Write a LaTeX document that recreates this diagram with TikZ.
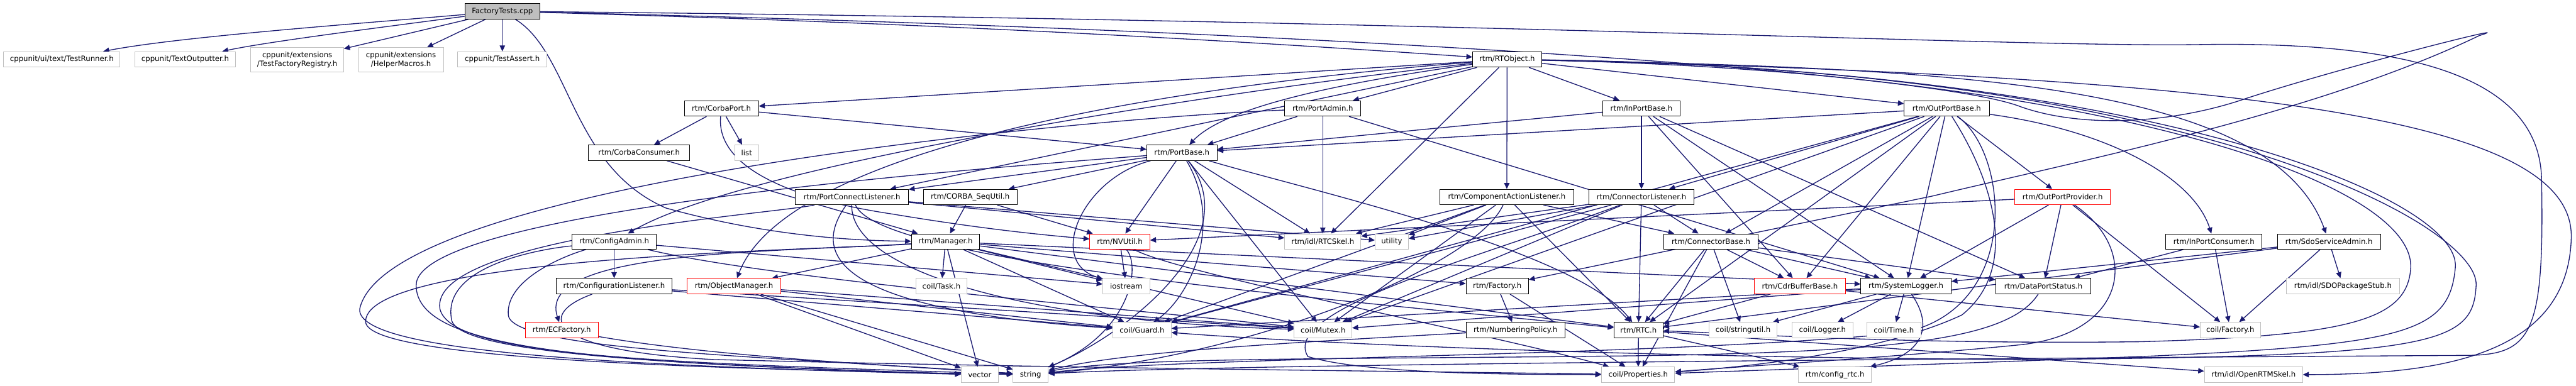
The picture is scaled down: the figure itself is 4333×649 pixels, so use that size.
\documentclass[tikz,border=0pt]{standalone}
\usepackage{fontspec}
\setmainfont{DejaVu Sans}
\usetikzlibrary{arrows.meta}
\definecolor{mb}{HTML}{191970}
\definecolor{gb}{HTML}{BFBFBF}
\pgfdeclarelayer{bg}
\pgfsetlayers{bg,main}
\newcommand\mynode[6]{\node[#5, minimum width=#4*0.5pt] (#1) at (#2,#3) {#6};}
\begin{document}
\begin{tikzpicture}[x=0.5pt,y=-0.5pt,
  base/.style={rectangle, inner sep=0pt, minimum height=13pt, fill=white, line width=0.5pt, text=black, font=\fontsize{6.2}{7.6}\selectfont, align=center},
  nb/.style={base, draw=black},
  nr/.style={base, draw=red},
  ng/.style={base, draw=gb},
  nt/.style={base, draw=black, fill=gb},
  e/.style={draw=mb, line width=0.7pt, -{Triangle[length=5pt,width=4.5pt]}}]
\useasboundingbox (0,0) rectangle (4333,649);
% row 0/1
\mynode{FT}{845}{19}{126}{nt}{FactoryTests.cpp}
\mynode{TR}{104}{100}{196}{ng}{cppunit/ui/text/TestRunner.h}
\mynode{TO}{311.5}{100}{169}{ng}{cppunit/TextOutputter.h}
\node[ng, minimum width=78pt, minimum height=20.5pt] (TFR) at (500,100.5) {cppunit/extensions\\/TestFactoryRegistry.h};
\node[ng, minimum width=71.5pt, minimum height=20.5pt] (HM) at (674.5,100.5) {cppunit/extensions\\/HelperMacros.h};
\mynode{TA}{845}{100}{150}{ng}{cppunit/TestAssert.h}
\mynode{RTO}{2535}{100}{116}{nb}{rtm/RTObject.h}
% row 2
\mynode{CP}{1213.5}{182.5}{125}{nb}{rtm/CorbaPort.h}
\mynode{PA}{2225}{182.5}{128}{nb}{rtm/PortAdmin.h}
\mynode{IPB}{2761}{182.5}{130}{nb}{rtm/InPortBase.h}
\mynode{OPB}{3274.5}{182.5}{143}{nb}{rtm/OutPortBase.h}
% row 3
\mynode{CC}{1075}{257}{170}{nb}{rtm/CorbaConsumer.h}
\mynode{LIST}{1256}{257}{40}{ng}{list}
\mynode{PB}{1988}{257}{118}{nb}{rtm/PortBase.h}
% row 4
\mynode{PCL}{1433}{331.5}{190}{nb}{rtm/PortConnectListener.h}
\mynode{CSU}{1632}{331.5}{158}{nb}{rtm/CORBA\_SeqUtil.h}
\mynode{CAL}{2534.5}{331.5}{225}{nb}{rtm/ComponentActionListener.h}
\mynode{CL}{2761}{331.5}{176}{nb}{rtm/ConnectorListener.h}
\mynode{OPP}{3469.5}{331.5}{161}{nr}{rtm/OutPortProvider.h}
% row 5
\mynode{CA}{1033}{406.5}{142}{nb}{rtm/ConfigAdmin.h}
\mynode{MGR}{1590.5}{406.5}{115}{nb}{rtm/Manager.h}
\mynode{NVU}{1883.5}{406.5}{101}{nr}{rtm/NVUtil.h}
\mynode{SKEL}{2225}{406.5}{128}{ng}{rtm/idl/RTCSkel.h}
\mynode{UTIL}{2341}{406.5}{56}{ng}{utility}
\mynode{CB}{2878}{406.5}{158}{nb}{rtm/ConnectorBase.h}
\mynode{IPC}{3724}{406.5}{162}{nb}{rtm/InPortConsumer.h}
\mynode{SDO}{3917.5}{406.5}{173}{nb}{rtm/SdoServiceAdmin.h}
% row 6
\mynode{CFL}{1033}{481.5}{194}{nb}{rtm/ConfigurationListener.h}
\mynode{OM}{1234.5}{481.5}{157}{nr}{rtm/ObjectManager.h}
\mynode{TASK}{1583.5}{481.5}{85}{ng}{coil/Task.h}
\mynode{IOS}{1894.5}{481.5}{79}{ng}{iostream}
\mynode{FAC}{2518.5}{481.5}{105}{nb}{rtm/Factory.h}
\mynode{CDR}{3027.5}{481.5}{153}{nr}{rtm/CdrBufferBase.h}
\mynode{SL}{3206}{481.5}{152}{nb}{rtm/SystemLogger.h}
\mynode{DPS}{3437}{481.5}{160}{nb}{rtm/DataPortStatus.h}
\mynode{SDOS}{3941}{481.5}{190}{ng}{rtm/idl/SDOPackageStub.h}
% row 7
\mynode{ECF}{945}{555.5}{122}{nr}{rtm/ECFactory.h}
\mynode{GUARD}{1921}{555.5}{98}{ng}{coil/Guard.h}
\mynode{MUTEX}{2225.5}{555.5}{97}{ng}{coil/Mutex.h}
\mynode{NP}{2549}{555.5}{166}{nb}{rtm/NumberingPolicy.h}
\mynode{RTC}{2756}{555.5}{82}{nb}{rtm/RTC.h}
\mynode{SU}{2932}{555.5}{114}{ng}{coil/stringutil.h}
\mynode{LOG}{3065.5}{555.5}{103}{ng}{coil/Logger.h}
\mynode{TIME}{3185.5}{555.5}{91}{ng}{coil/Time.h}
\mynode{CFAC}{3751.5}{555.5}{101}{ng}{coil/Factory.h}
% row 8
\mynode{VEC}{1648}{630.5}{62}{ng}{vector}
\mynode{STR}{1733.5}{630.5}{59}{ng}{string}
\mynode{PROP}{2755.5}{630.5}{123}{ng}{coil/Properties.h}
\mynode{CFG}{3086.5}{630.5}{123}{ng}{rtm/config\_rtc.h}
\mynode{ORSKEL}{3790.5}{630.5}{165}{ng}{rtm/idl/OpenRTMSkel.h}

\begin{pgfonlayer}{bg}
% FactoryTests
\draw[e] (FT) .. controls (600,40) and (300,62) .. (TR);
\draw[e] (FT) .. controls (650,45) and (450,70) .. (TO);
\draw[e] (FT) -- (TFR);
\draw[e] (FT) -- (HM);
\draw[e] (FT) -- (TA);
\draw[e] (FT) .. controls (1600,40) and (2100,70) .. (RTO);
\draw[e] (FT) .. controls (960,90) and (960,280) .. (1120,350) .. controls (1300,400) and (1450,405) .. (MGR);
\draw[e] (FT) .. controls (2200,50) and (3250,120) .. (3400,180) .. controls (3500,215) and (3650,210) .. (3780,165) .. controls (3950,110) and (4250,35) .. (4170,60) .. controls (3900,190) and (3500,270) .. (3250,330) -- (FAC);
\draw[e] (FT) .. controls (2500,35) and (3400,80) .. (3700,75) .. controls (4000,70) and (4270,110) .. (4275,300) .. controls (4280,560) and (4260,597) .. (4150,598) .. controls (3000,605) and (2000,615) .. (STR);
% RTObject
\draw[e] (RTO) -- (CP);
\draw[e] (RTO) .. controls (2250,140) and (2060,180) .. (PB);
\draw[e] (RTO) -- (PA);
\draw[e] (RTO) -- (IPB);
\draw[e] (RTO) -- (OPB);
\draw[e] (RTO) -- (CAL);
\draw[e] (RTO) -- (SKEL);
\draw[e] (RTO) .. controls (2000,160) and (1250,280) .. (CA);
\draw[e] (RTO) .. controls (1900,150) and (1320,260) .. (OM);
\draw[e] (RTO) -- (PCL);
\draw[e] (RTO) .. controls (3300,115) and (3820,140) .. (SDO);
\draw[e] (RTO) .. controls (3500,120) and (4060,300) .. (4055,450) .. controls (4050,540) and (3950,565) .. (3600,575) .. controls (3200,580) and (2900,560) .. (RTC);
\draw[e] (RTO) .. controls (3600,115) and (4140,330) .. (4130,450) .. controls (4120,560) and (4050,580) .. (3600,600) .. controls (3200,615) and (2900,625) .. (PROP);
\draw[e] (RTO) .. controls (3700,115) and (4170,380) .. (4165,480) .. controls (4160,580) and (4100,600) .. (3400,605) .. controls (2600,600) and (2100,570) .. (GUARD);
\draw[e] (RTO) .. controls (3800,130) and (4330,200) .. (4325,400) .. controls (4320,600) and (4100,630) .. (ORSKEL);
% CorbaPort, CorbaConsumer
\draw[e] (CP) -- (CC);
\draw[e] (CP) -- (LIST);
\draw[e] (CP) -- (PB);
\draw[e] (CP) .. controls (1205,270) and (1300,330) .. (1500,360) .. controls (1650,385) and (1750,395) .. (NVU);
\draw[e] (CC) -- (MGR);
% PortBase
\draw[e] (PB) -- (PCL);
\draw[e] (PB) -- (CSU);
\draw[e] (PB) -- (NVU);
\draw[e] (PB) -- (SKEL);
\draw[e] (PB) .. controls (1820,300) and (1760,440) .. (IOS);
\draw[e] (PB) .. controls (2060,380) and (2000,500) .. (GUARD);
\draw[e] (PB) -- (MUTEX);
\draw[e] (PB) .. controls (2200,320) and (2650,420) .. (RTC);
\draw[e] (PB) .. controls (1700,280) and (700,350) .. (700,480) .. controls (700,590) and (1000,610) .. (VEC);
\draw[e] (PB) .. controls (2100,400) and (1900,560) .. (STR);
% PortAdmin
\draw[e] (PA) -- (PB);
\draw[e] (PA) -- (SKEL);
\draw[e] (PA) -- (SL);
\draw[e] (PA) .. controls (1800,200) and (650,310) .. (605,520) .. controls (600,590) and (1000,615) .. (VEC);
% InPortBase
\draw[e] (IPB) -- (PB);
\draw[e] (IPB) -- (CL);
\draw[e] (IPB) -- (CDR);
\draw[e] (IPB) -- (DPS);
\draw[e] (IPB) -- (SL);
% OutPortBase
\draw[e] (OPB) -- (PB);
\draw[e] (OPB) -- (OPP);
\draw[e] (OPB) .. controls (3550,220) and (3690,300) .. (IPC);
\draw[e] (OPB) -- (CL);
\draw[e] (OPB) -- (CB);
\draw[e] (OPB) -- (CDR);
\draw[e] (OPB) -- (SL);
\draw[e] (OPB) -- (RTC);
\draw[e] (OPB) -- (GUARD);
\draw[e] (OPB) -- (MUTEX);
\draw[e] (OPB) .. controls (3350,300) and (3400,450) .. (3300,530) .. controls (3150,600) and (2900,620) .. (PROP);
\draw[e] (OPB) .. controls (3380,260) and (3400,520) .. (3200,560) .. controls (2800,600) and (2000,600) .. (STR);
% PortConnectListener, CORBA_SeqUtil
\draw[e] (PCL) -- (UTIL);
\draw[e] (PCL) -- (SKEL);
\draw[e] (PCL) .. controls (1370,420) and (1380,520) .. (GUARD);
\draw[e] (PCL) .. controls (1430,450) and (1700,540) .. (MUTEX);
\draw[e] (PCL) .. controls (1480,440) and (2200,500) .. (RTC);
\draw[e] (PCL) .. controls (1300,360) and (720,400) .. (740,520) .. controls (760,600) and (1100,610) .. (STR);
\draw[e] (CSU) -- (MGR);
\draw[e] (CSU) -- (NVU);
% ComponentActionListener
\draw[e] (CAL) -- (SKEL);
\draw[e] (CAL) -- (UTIL);
\draw[e] (CAL) -- (MUTEX);
\draw[e] (CAL) -- (GUARD);
\draw[e] (CAL) -- (RTC);
\draw[e] (CAL) -- (CB);
\draw[e] (CAL) .. controls (2480,450) and (2100,600) .. (STR);
% ConnectorListener
\draw[e] (CL) -- (SKEL);
\draw[e] (CL) -- (UTIL);
\draw[e] (CL) -- (GUARD);
\draw[e] (CL) -- (MUTEX);
\draw[e] (CL) -- (RTC);
\draw[e] (CL) -- (CB);
\draw[e] (CL) .. controls (2500,430) and (2150,520) .. (2200,600) .. controls (2300,630) and (2550,630) .. (PROP);
% ConnectorBase
\draw[e] (CB) -- (RTC);
\draw[e] (CB) -- (PROP);
\draw[e] (CB) -- (SU);
\draw[e] (CB) -- (CDR);
\draw[e] (CB) -- (SL);
\draw[e] (CB) -- (DPS);
% CdrBufferBase, SystemLogger, DataPortStatus
\draw[e] (CDR) -- (RTC);
\draw[e] (CDR) -- (CFAC);
\draw[e] (SL) -- (SU);
\draw[e] (SL) -- (LOG);
\draw[e] (SL) -- (TIME);
\draw[e] (SL) .. controls (3260,560) and (3220,600) .. (CFG);
\draw[e] (SL) -- (GUARD);
\draw[e] (SL) -- (MUTEX);
\draw[e] (DPS) .. controls (3380,570) and (3200,590) .. (2800,598) .. controls (2300,605) and (1900,600) .. (STR);
% OutPortProvider, InPortConsumer, SdoServiceAdmin
\draw[e] (OPP) -- (NVU);
\draw[e] (OPP) -- (SL);
\draw[e] (OPP) -- (DPS);
\draw[e] (OPP) -- (CFAC);
\draw[e] (OPP) .. controls (3600,420) and (3580,560) .. (3400,580) .. controls (3200,600) and (2950,615) .. (PROP);
\draw[e] (IPC) -- (DPS);
\draw[e] (IPC) -- (CFAC);
\draw[e] (SDO) -- (SDOS);
\draw[e] (SDO) -- (CFAC);
\draw[e] (SDO) -- (SL);
\draw[e] (SDO) -- (RTC);
% Manager
\draw[e] (MGR) -- (OM);
\draw[e] (MGR) -- (TASK);
\draw[e] (MGR) -- (VEC);
\draw[e] (MGR) -- (GUARD);
\draw[e] (MGR) -- (IOS);
\draw[e] (MGR) -- (SL);
\draw[e] (MGR) -- (FAC);
\draw[e] (MGR) -- (RTC);
\draw[e] (MGR) -- (MUTEX);
\draw[e] (MGR) .. controls (1300,425) and (900,420) .. (ECF);
\draw[e] (MGR) .. controls (1400,420) and (620,430) .. (615,540) .. controls (610,600) and (1100,620) .. (STR);
% ConfigAdmin, ConfigurationListener, ECFactory, ObjectManager
\draw[e] (CA) -- (CFL);
\draw[e] (CA) -- (IOS);
\draw[e] (CA) .. controls (1300,470) and (1900,520) .. (MUTEX);
\draw[e] (CA) .. controls (900,420) and (740,450) .. (760,540) .. controls (780,600) and (1200,615) .. (VEC);
\draw[e] (CA) .. controls (950,430) and (850,470) .. (855,530) .. controls (860,590) and (1300,600) .. (STR);
\draw[e] (CFL) -- (GUARD);
\draw[e] (CFL) -- (MUTEX);
\draw[e] (CFL) .. controls (900,530) and (920,590) .. (1200,605) .. controls (1800,620) and (2400,625) .. (PROP);
\draw[e] (ECF) .. controls (1200,600) and (1500,615) .. (STR);
\draw[e] (OM) -- (VEC);
\draw[e] (OM) -- (STR);
\draw[e] (OM) -- (GUARD);
\draw[e] (OM) -- (MUTEX);
% NVUtil, Factory, NumberingPolicy, RTC
\draw[e] (NVU) -- (IOS);
\draw[e] (NVU) .. controls (1920,450) and (1900,560) .. (STR);
\draw[e] (NVU) .. controls (1980,460) and (2500,560) .. (PROP);
\draw[e] (FAC) -- (NP);
\draw[e] (FAC) -- (PROP);
\draw[e] (NP) .. controls (2200,575) and (1900,590) .. (STR);
\draw[e] (RTC) -- (PROP);
\draw[e] (RTC) -- (CFG);
\draw[e] (RTC) -- (ORSKEL);
\end{pgfonlayer}
\end{tikzpicture}
\end{document}
